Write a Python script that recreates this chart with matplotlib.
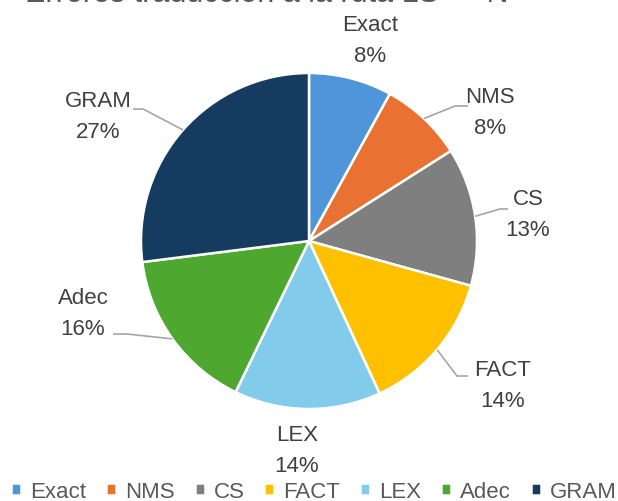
import matplotlib
matplotlib.use("Agg")
import matplotlib.pyplot as plt
import numpy as np

plt.rcParams['font.family'] = ['Liberation Sans Narrow', 'Liberation Sans', 'DejaVu Sans']

categories = ["Exact", "NMS", "CS", "FACT", "LEX", "Adec", "GRAM"]
shares = [8.0, 8.0, 13.3, 13.8, 14.1, 15.8, 27.0]
colors = ["#4E95D9", "#E97132", "#7F7F7F", "#FFC000", "#83CBEB", "#4EA72E", "#163B61"]
title = "Errores traducción a la ruta LS \u2192 N"

W, H = 618, 502
fig = plt.figure(figsize=(W / 100, H / 100), dpi=100)
ax = fig.add_axes([0, 0, 1, 1])

cx, cy, R = 309, H - 242, 168
wedges, _ = ax.pie(shares, colors=colors, startangle=90, counterclock=False,
                   center=(cx, cy), radius=R, frame=True,
                   wedgeprops=dict(edgecolor="white", linewidth=1.8))
ax.set_xlim(0, W)
ax.set_ylim(0, H)
ax.axis("off")

# label layout (pixel coords from top) and leader elbows
label_pos = {
    "Exact": (370, 41), "NMS": (490, 113), "CS": (528, 215), "FACT": (503, 386),
    "LEX": (297, 451), "Adec": (83, 314), "GRAM": (98, 117),
}
elbows = {
    "NMS": [(455, 107), (468, 107)],
    "CS": [(500, 210), (508, 210)],
    "FACT": [(457, 377), (468, 377)],
    "Adec": [(127, 335), (113, 335)],
    "GRAM": [(143, 110), (133, 110)],
}

for w, name, v in zip(wedges, categories, shares):
    mid = np.deg2rad((w.theta1 + w.theta2) / 2)
    px, py = cx + R * np.cos(mid), cy + R * np.sin(mid)
    lx, ly = label_pos[name]
    ax.text(lx, H - ly, f"{name}\n{v:.0f}%", ha="center", va="center",
            fontsize=16, color="#404040", linespacing=1.6)
    if name in elbows:
        pts = [(px, py)] + [(x, H - y) for x, y in elbows[name]]
        xs, ys = zip(*pts)
        ax.plot(xs, ys, color="#A6A6A6", lw=1.2, solid_capstyle="butt")

# title sits mostly above the canvas, as in the cropped original
fig.text(25 / W, 1 - 2 / H, title, ha="left", va="baseline", fontsize=22, color="#595959")

fig.legend(wedges, categories, loc="lower center", bbox_to_anchor=(0.508, -0.042),
           ncol=7, frameon=False, fontsize=16, labelcolor="#595959",
           handlelength=0.45, handleheight=0.45, handletextpad=0.4, columnspacing=0.9)

fig.savefig("out.png", dpi=100)
